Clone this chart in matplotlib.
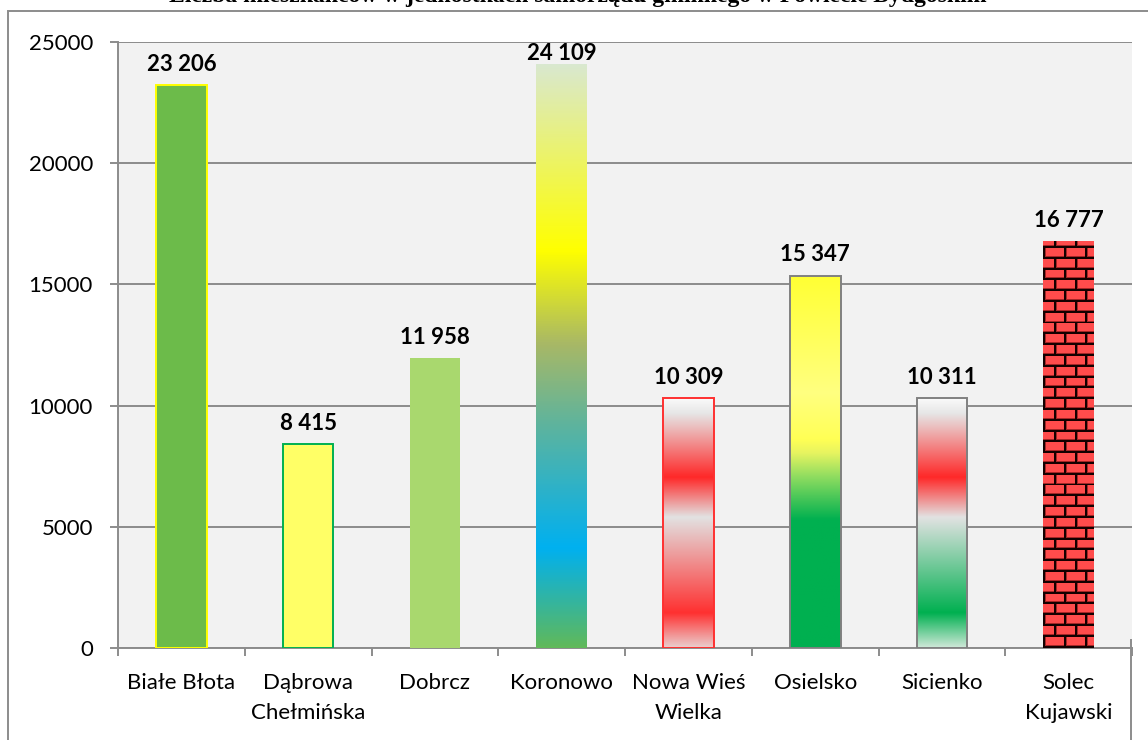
import numpy as np
import matplotlib
matplotlib.use("Agg")
import matplotlib.pyplot as plt
from matplotlib.colors import LinearSegmentedColormap
from matplotlib.patches import Rectangle
from matplotlib.lines import Line2D

# data
gminy = ["Białe Błota", "Dąbrowa\nChełmińska", "Dobrcz", "Koronowo",
         "Nowa Wieś\nWielka", "Osielsko", "Sicienko", "Solec\nKujawski"]
mieszkancy = [23206, 8415, 11958, 24109, 10309, 15347, 10311, 16777]
yticks = [0, 5000, 10000, 15000, 20000, 25000]
tytul = "Liczba mieszkańców w jednostkach samorządu gminnego w Powiecie Bydgoskim"

plt.rcParams['font.family'] = ['Lato', 'DejaVu Sans']

# fill of each bar: solid colour, gradient stops (bottom -> top) or brick pattern
fills = [
    '#6cbb4a',
    '#ffff66',
    '#a9d86e',
    [(0.0, '#60b95a'), (0.17, '#00b0f0'), (0.39, '#62b49a'), (0.52, '#a8b866'),
     (0.68, '#ffff00'), (1.0, '#d9e8d0')],
    [(0.0, '#eacfcf'), (0.14, '#ff3030'), (0.524, '#e2e2e2'), (0.684, '#ff2828'),
     (0.94, '#e6e6e6'), (1.0, '#fafafa')],
    [(0.0, '#00b050'), (0.344, '#00b050'), (0.46, '#90dd60'), (0.524, '#e8f460'),
     (0.559, '#ffff55'), (0.685, '#ffff80'), (1.0, '#ffff33')],
    [(0.0, '#cfe8d8'), (0.14, '#00b050'), (0.524, '#e2e2e2'), (0.684, '#ff2828'),
     (0.94, '#e6e6e6'), (1.0, '#fafafa')],
    'brick',
]
edges = ['#ffff00', '#00b050', 'none', 'none', '#ff3030', '#808080', '#808080', 'none']


def brick_texture(w_px, h_px):
    yy, xx = np.mgrid[0:h_px, 0:w_px]
    row_h, brick_w = 10.8, 20.8
    row = np.floor(yy / row_h)
    ry = yy - row * row_h
    rx = (xx + (row % 2) * brick_w / 2) % brick_w
    img = np.ones((h_px, w_px, 3)) * np.array([1.0, 0.3, 0.3])
    mortar = (ry < 2) | (rx < 2)
    shade = ((ry < 3.0) | (rx < 3.0)) & ~mortar
    img[shade] = [0.65, 0.15, 0.15]
    img[mortar] = [0.08, 0.0, 0.0]
    return img


fig = plt.figure(figsize=(11.48, 7.40), dpi=100)
ax = fig.add_axes([0.1028, 0.12432, 0.8833, 0.81892])
ax.set_facecolor('#f2f2f2')

x = np.arange(len(gminy))
w = 0.4
grad = np.linspace(0, 1, 512).reshape(-1, 1)

for xi, v, f, ec in zip(x, mieszkancy, fills, edges):
    if isinstance(f, str) and f != 'brick':
        ax.bar(xi, v, w, color=f, edgecolor=ec, linewidth=1.4, zorder=3)
        continue
    bar = ax.bar(xi, v, w, facecolor='none', edgecolor=ec, linewidth=1.4, zorder=4)[0]
    x0, x1 = xi - w / 2, xi + w / 2
    if f == 'brick':
        im = ax.imshow(brick_texture(51, 606), extent=(x0, x1, 0, 25000), origin='lower',
                       aspect='auto', interpolation='nearest', zorder=3)
    else:
        cmap = LinearSegmentedColormap.from_list('g%d' % xi, f)
        im = ax.imshow(grad, cmap=cmap, extent=(x0, x1, 0, v), origin='lower',
                       aspect='auto', interpolation='bilinear', zorder=3)
    im.set_clip_path(bar)

# value labels (kept inside the plot area like Excel does)
for xi, v in zip(x, mieszkancy):
    ytxt = min(v + 866, 24546)
    ax.text(xi, ytxt, f"{v:,}".replace(",", " "), ha='center', va='center',
            fontsize=16, fontweight='bold', color='black', zorder=5)

ax.set_xlim(-0.5, len(gminy) - 0.5)
ax.set_ylim(0, 25000)
ax.set_yticks(yticks)
ax.set_yticklabels([str(t) for t in yticks])
ax.set_xticks(x)
ax.set_xticklabels(gminy, linespacing=1.6)
ax.set_xticks(np.arange(-0.5, len(gminy), 1), minor=True)

ax.yaxis.grid(True, color='#8c8c8c', linewidth=1.4)
ax.set_axisbelow(True)
for s in ['top', 'right']:
    ax.spines[s].set_visible(False)
for s in ['left', 'bottom']:
    ax.spines[s].set_color('#8c8c8c')
    ax.spines[s].set_linewidth(1.4)

ax.tick_params(axis='y', length=6, width=1.4, color='#8c8c8c', pad=12, labelsize=16)
ax.tick_params(axis='x', which='major', length=0, pad=18, labelsize=16)
ax.tick_params(axis='x', which='minor', length=6, width=1.4, color='#8c8c8c')

# outer chart frame (cut off on the right and bottom)
fig.patches.append(Rectangle((8 / 1148, -0.02), 1.05, 1 - 11 / 740 + 0.02,
                             transform=fig.transFigure, fill=False,
                             edgecolor='#8c8c8c', linewidth=1.4))
fig.lines.append(Line2D([1131 / 1148, 1131 / 1148], [0, 1 - 640 / 740],
                        transform=fig.transFigure, color='#8c8c8c', linewidth=1.4))

# title mostly outside the image
fig.text(0.5035, 1 - 2 / 740, tytul, ha='center', va='baseline', fontsize=17,
         fontweight='bold', family=['Liberation Serif', 'DejaVu Serif'])

fig.savefig('out.png', dpi=100)
